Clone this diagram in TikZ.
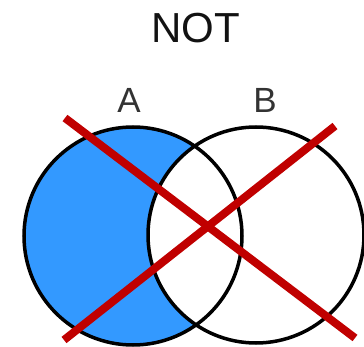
\documentclass[tikz,border=0pt]{standalone}
\usepackage{fontspec}
\setmainfont{Liberation Sans}

\definecolor{setblue}{RGB}{51,153,255}
\definecolor{crossred}{RGB}{192,0,0}

\begin{document}
\begin{tikzpicture}[x=1pt,y=1pt,yscale=-1,xscale=1]
\useasboundingbox (0,0) rectangle (364,347);

%Shape: Circle A (filled)
\fill[setblue] (133,236) circle (109);
%Shape: Circle B (white over A)
\fill[white] (256,235) circle (108);
%Outlines
\draw[line width=3.5pt] (133,236) circle (109);
\draw[line width=3.5pt] (256,235) circle (108);

%Cross
\draw[crossred,line width=8pt] (65,118) -- (355,338);
\draw[crossred,line width=8pt] (335,126) -- (64,340);

% Text Node
\node[inner sep=0pt,text=black!93] (title) at (196,28) {\fontsize{42}{42}\selectfont NOT};
% Text Node
\node[inner sep=0pt,text=black!80] (labelA) at (129,100) {\fontsize{35}{35}\selectfont A};
% Text Node
\node[inner sep=0pt,text=black!80] (labelB) at (265,100) {\fontsize{35}{35}\selectfont B};

\end{tikzpicture}
\end{document}
